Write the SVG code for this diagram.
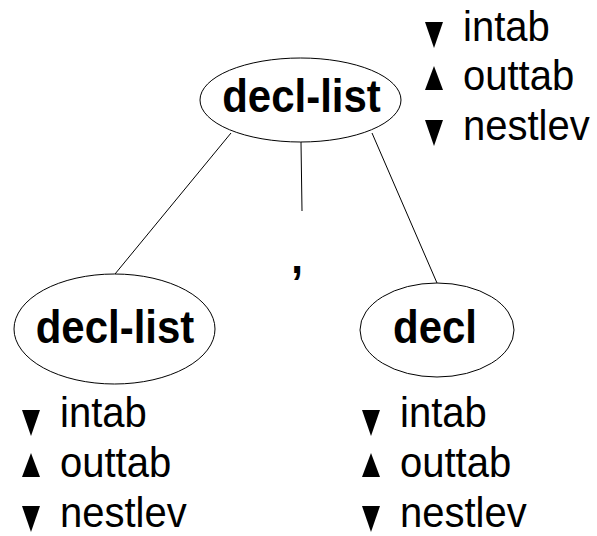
<svg xmlns="http://www.w3.org/2000/svg" width="597" height="536" viewBox="0 0 597 536">
<style>
.node{fill:#fff;stroke:#000;stroke-width:1}
.lbl{font-family:"Liberation Sans",Arial,sans-serif;font-weight:bold;font-size:42px;fill:#000;text-anchor:middle}
.attr{font-family:"Liberation Sans",Arial,sans-serif;font-size:40px;fill:#000}
.tri{fill:#000}
.edge{stroke:#000;stroke-width:1;fill:none}
</style>
<defs>
<polygon id="dn" class="tri" points="0,0 18,0 9,26"/>
<polygon id="up" class="tri" points="9,0 18,24 0,24"/>
</defs>
<g id="connectors">
<line class="edge" x1="231" y1="133" x2="115" y2="274"/>
<line class="edge" x1="301" y1="142" x2="302" y2="211"/>
<line class="edge" x1="372" y1="133" x2="437" y2="283"/>
</g>
<text class="lbl" transform="translate(297,273) scale(1,1.12)">,</text>
<g id="root">
<ellipse class="node" cx="300.5" cy="100" rx="100.5" ry="42"/>
<text class="lbl" transform="translate(301.5,112) scale(1,1.12)">decl-list</text>
<use href="#dn" x="425" y="22"/>
<text class="attr" transform="translate(463,41) scale(1,1.08)">intab</text>
<use href="#up" x="425" y="66"/>
<text class="attr" transform="translate(463,90) scale(1,1.08)">outtab</text>
<use href="#dn" x="425" y="120"/>
<text class="attr" transform="translate(463,140) scale(1,1.08)">nestlev</text>
</g>
<g id="left">
<ellipse class="node" cx="114.5" cy="329" rx="100.5" ry="55"/>
<text class="lbl" transform="translate(115,343) scale(1,1.12)">decl-list</text>
<use href="#dn" x="22" y="410"/>
<text class="attr" transform="translate(60,427) scale(1,1.08)">intab</text>
<use href="#up" x="22" y="453"/>
<text class="attr" transform="translate(60,477) scale(1,1.08)">outtab</text>
<use href="#dn" x="22" y="506"/>
<text class="attr" transform="translate(60,527) scale(1,1.08)">nestlev</text>
</g>
<g id="right">
<ellipse class="node" cx="437" cy="330" rx="77" ry="47"/>
<text class="lbl" transform="translate(435,343) scale(1,1.12)">decl</text>
<use href="#dn" x="362" y="410"/>
<text class="attr" transform="translate(400,427) scale(1,1.08)">intab</text>
<use href="#up" x="362" y="453"/>
<text class="attr" transform="translate(400,477) scale(1,1.08)">outtab</text>
<use href="#dn" x="362" y="506"/>
<text class="attr" transform="translate(400,527) scale(1,1.08)">nestlev</text>
</g>
</svg>
